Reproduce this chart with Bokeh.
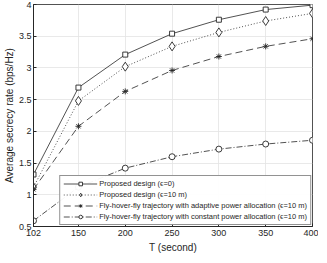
from bokeh.plotting import figure
from bokeh.models import FixedTicker, Legend, Range1d
from bokeh.embed import file_html
from bokeh.resources import INLINE

T = [102, 150, 200, 250, 300, 350, 400]
prop_e0 = [1.32, 2.69, 3.21, 3.54, 3.76, 3.92, 3.99]
prop_e10 = [1.12, 2.48, 3.02, 3.34, 3.56, 3.74, 3.86]
fhf_adapt = [1.085, 2.08, 2.63, 2.96, 3.18, 3.34, 3.46]
fhf_const = [0.59, 1.12, 1.42, 1.60, 1.72, 1.80, 1.86]
labels = ["Proposed design (ϵ=0)",
          "Proposed design (ϵ=10 m)",
          "Fly-hover-fly trajectory with adaptive power allocation (ϵ=10 m)",
          "Fly-hover-fly trajectory with constant power allocation (ϵ=10 m)"]
x_ticks = [102, 150, 200, 250, 300, 350, 400]
y_ticks = [0.5, 1, 1.5, 2, 2.5, 3, 3.5, 4]

FONT = "Liberation Sans"
p = figure(width=318, height=255, output_backend="svg", toolbar_location=None,
           x_range=Range1d(102, 400), y_range=Range1d(0.5, 4),
           min_border_left=0, min_border_right=6, min_border_top=4, min_border_bottom=0)
p.background_fill_color = "white"
p.outline_line_color = "#262626"
p.outline_line_width = 0.8

for ax in (p.xaxis[0], p.yaxis[0]):
    ax.major_label_text_font = FONT
    ax.major_label_text_font_size = "9px"
    ax.major_label_text_color = "#262626"
    ax.axis_label_text_font = FONT
    ax.axis_label_text_font_size = "10px"
    ax.axis_label_text_font_style = "normal"
    ax.axis_label_text_color = "#262626"
    ax.major_tick_in = 3
    ax.major_tick_out = 0
    ax.minor_tick_line_color = None
    ax.axis_line_color = "#262626"
    ax.major_tick_line_color = "#262626"
    ax.major_label_standoff = 3
    ax.axis_label_standoff = 3

p.xaxis.ticker = FixedTicker(ticks=x_ticks)
p.yaxis.ticker = FixedTicker(ticks=y_ticks)
p.xaxis.axis_label = "T (second)"
p.yaxis.axis_label = "Average secrecy rate (bps/Hz)"
p.yaxis.major_label_standoff = 2
p.yaxis.axis_label_standoff = 1

p.grid.grid_line_color = "#e3e3e3"
p.grid.grid_line_width = 0.8
p.xgrid.ticker = FixedTicker(ticks=x_ticks)
p.ygrid.ticker = FixedTicker(ticks=y_ticks)

c = "#262626"
series = [
    (prop_e0, "solid", "square", 5, "white"),
    (prop_e10, "1 2", "diamond", 9, "white"),
    (fhf_adapt, "7 4", "asterisk", 6, c),
    (fhf_const, "6 2 1 2", "circle", 6, "white"),
]
items = []
for (ys, dash, marker, size, fill), lab in zip(series, labels):
    r1 = p.line(T, ys, line_color=c, line_width=0.8, line_dash=dash)
    r2 = p.scatter(T, ys, marker=marker, size=size, line_color=c, fill_color=fill, line_width=0.9)
    items.append((lab, [r1, r2]))

legend = Legend(items=items, location="bottom_right")
legend.label_text_font = FONT
legend.label_text_font_size = "7.5px"
legend.label_text_color = "#262626"
legend.label_height = 9
legend.glyph_height = 9
legend.glyph_width = 34
legend.spacing = 2
legend.padding = 3
legend.margin = 1
legend.label_standoff = 2
legend.border_line_color = "#262626"
legend.border_line_width = 0.8
p.add_layout(legend, "center")

open("out.html", "w").write(file_html(p, INLINE))
